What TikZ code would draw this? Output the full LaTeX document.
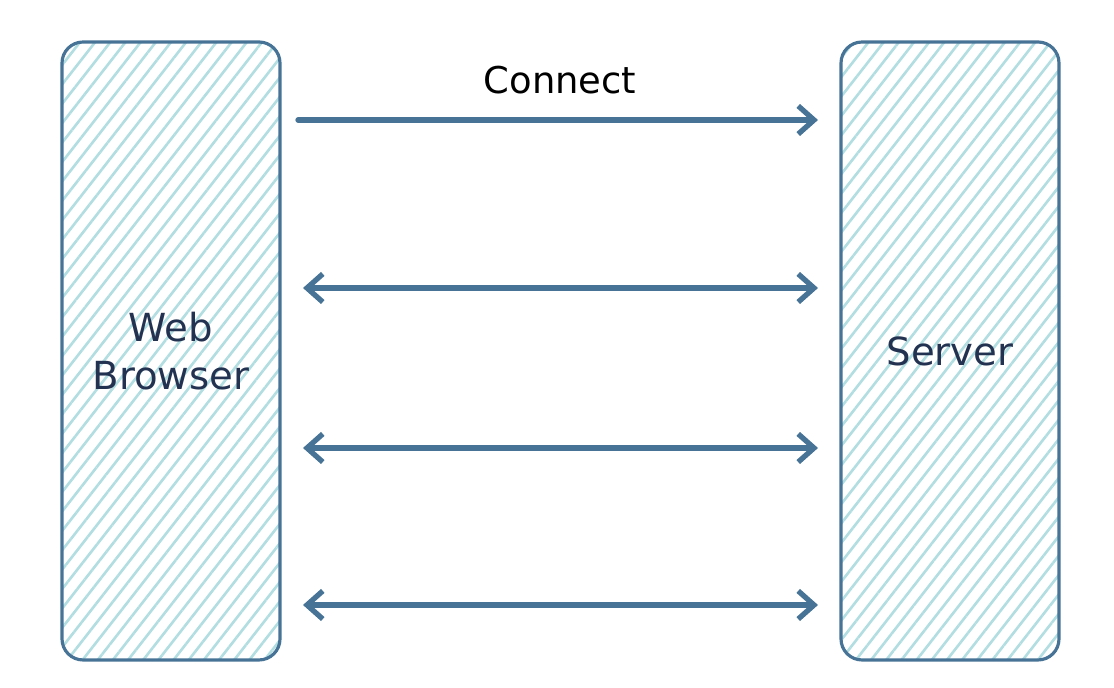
\documentclass[tikz,border=0pt]{standalone}
\usepackage{fontspec}
\setmainfont{DejaVu Sans}
\usetikzlibrary{arrows.meta,patterns.meta}

\definecolor{edgeblue}{RGB}{70,115,150}
\definecolor{hatchcyan}{RGB}{178,222,226}
\definecolor{labelnavy}{RGB}{35,50,80}

\tikzset{
  side/.style={draw=edgeblue, line width=0.9pt, rounded corners=6pt,
    pattern={Lines[angle=52,distance=3.4pt,line width=0.75pt]}, pattern color=hatchcyan,
    text=labelnavy, align=center, font=\fontsize{11}{13.7}\selectfont,
    minimum width=2.18cm, minimum height=6.18cm, inner sep=0pt},
  msg/.style={draw=edgeblue, line width=1.5pt, line cap=round,
    >={Straight Barb[length=4.5pt,width=8pt,line width=1.5pt]}}
}

\begin{document}
\begin{tikzpicture}
    \useasboundingbox (0,0) rectangle (11.14,6.88);
    % the two ends
    \node (browser) [side] at (1.71,3.37) {Web\\Browser};
    \node (server) [side] at (9.50,3.37) {Server};
    % arrow ends
    \coordinate (c0) at (2.98,5.68);
    \coordinate (s0) at (8.18,5.68);
    \coordinate (c1) at (3.03,4.00);
    \coordinate (s1) at (8.18,4.00);
    \coordinate (c2) at (3.03,2.40);
    \coordinate (s2) at (8.18,2.40);
    \coordinate (c3) at (3.03,0.83);
    \coordinate (s3) at (8.18,0.83);
    \draw [msg, ->] (c0) -- (s0);
    \node (connect) at (5.60,6.08) [font=\fontsize{10.5}{12}\selectfont] {Connect};
    \draw [msg, <->] (c1) -- (s1);
    \draw [msg, <->] (c2) -- (s2);
    \draw [msg, <->] (c3) -- (s3);
\end{tikzpicture}
\end{document}
